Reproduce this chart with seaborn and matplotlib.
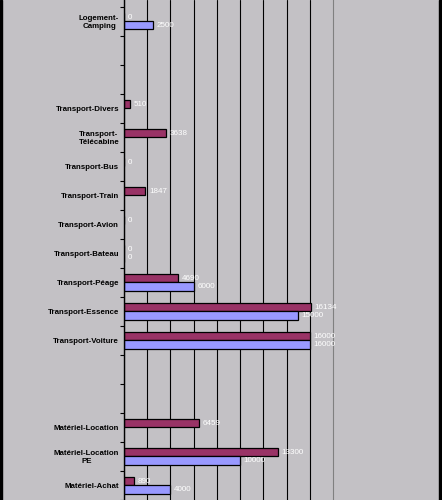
import seaborn as sns
import matplotlib.pyplot as plt
import numpy as np
import pandas as pd

# Catégories (de haut en bas), deux lignes vides comprises
categories = [
    "Logement-\nCamping", " ", "  ",
    "Transport-Divers", "Transport-\nTélécabine", "Transport-Bus",
    "Transport-Train", "Transport-Avion", "Transport-Bateau",
    "Transport-Péage", "Transport-Essence", "Transport-Voiture",
    "   ", "    ",
    "Matériel-Location", "Matériel-Location\nPE", "Matériel-Achat",
]
reel = [0, np.nan, np.nan, 510, 3638, 0, 1847, 0, 0, 4690, 16134, 16000,
        np.nan, np.nan, 6459, 13300, 890]
budget = [2500, np.nan, np.nan, np.nan, np.nan, np.nan, np.nan, np.nan, 0, 6000, 15000, 16000,
          np.nan, np.nan, np.nan, 10000, 4000]
series = ["Réel", "Budget"]

df = pd.DataFrame({
    "categorie": categories * 2,
    "montant": reel + budget,
    "serie": [series[0]] * len(categories) + [series[1]] * len(categories),
})

bg = "#c3c1c5"
sns.set_theme(style="white")
plt.rcParams["font.family"] = ["Liberation Sans", "DejaVu Sans"]

fig = plt.figure(figsize=(4.42, 5.0), dpi=100)
fig.patch.set_facecolor(bg)
ax = fig.add_axes([124 / 442, 0, 209 / 442, 1])
ax.set_facecolor(bg)

sns.barplot(data=df, y="categorie", x="montant", hue="serie", order=categories,
            hue_order=series, orient="h", width=0.567, saturation=1,
            palette=["#993366", "#9999ff"], edgecolor="black", linewidth=0.9,
            errorbar=None, legend=False, ax=ax)

for cont in ax.containers:
    labels = [f"{v:.0f}" for v in cont.datavalues]
    ax.bar_label(cont, labels=labels, padding=2.5, color="white", fontsize=5.8)

ax.set_xlim(0, 18000)
ax.set_ylim(16.336, -0.729)
ax.set_xticks(np.arange(0, 16001, 2000))
ax.set_xticklabels([])
ax.grid(axis="x", color="black", linewidth=0.8)
ax.set_axisbelow(True)
ax.tick_params(axis="x", length=0)

ax.set_yticks(np.arange(len(categories)))
ax.set_yticklabels(categories, fontsize=5.7, fontweight="bold", color="black")
for lbl in ax.get_yticklabels():
    lbl.set_multialignment("center")
ax.set_yticks(np.arange(-0.5, len(categories), 1), minor=True)
ax.tick_params(axis="y", which="major", length=0, pad=3.5, labelcolor="black")
ax.tick_params(axis="y", which="minor", length=3, width=0.8, color="black", left=True)
ax.set_xlabel("")
ax.set_ylabel("")

for side in ["top", "bottom"]:
    ax.spines[side].set_visible(False)
ax.spines["left"].set_color("black")
ax.spines["left"].set_linewidth(1.0)
ax.spines["right"].set_color("#808080")
ax.spines["right"].set_linewidth(0.8)

# bords noirs gauche et droite
fig.add_artist(plt.Rectangle((0, 0), 2 / 442, 1, transform=fig.transFigure, color="black"))
fig.add_artist(plt.Rectangle((439 / 442, 0), 3 / 442, 1, transform=fig.transFigure, color="black"))

fig.savefig("out.png", dpi=100, facecolor=bg)
